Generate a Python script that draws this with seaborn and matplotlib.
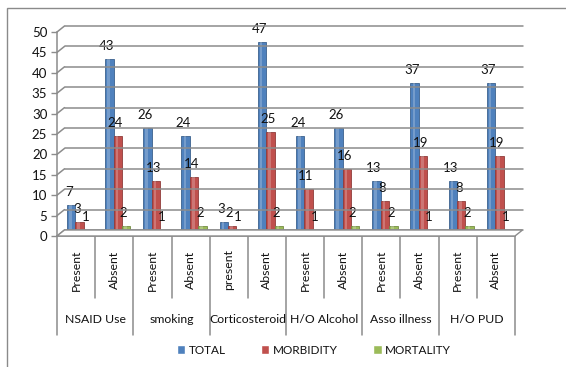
import matplotlib
matplotlib.use("Agg")
import matplotlib.pyplot as plt
import matplotlib.transforms as mtransforms
from matplotlib.lines import Line2D
from matplotlib.patches import Rectangle, Polygon
import seaborn as sns
import pandas as pd

# Risk factors and their two levels
groups = ["NSAID Use", "smoking", "Corticosteroid", "H/O Alcohol", "Asso illness", "H/O PUD"]
levels = ["Present", "Absent", "Present", "Absent", "present", "Absent",
          "Present", "Absent", "Present", "Absent", "Present", "Absent"]

# Counts per level
total = [7, 43, 26, 24, 3, 47, 24, 26, 13, 37, 13, 37]
morbidity = [3, 24, 13, 14, 2, 25, 11, 16, 8, 19, 8, 19]
mortality = [1, 2, 1, 2, 1, 2, 1, 2, 2, 1, 2, 1]

series = ["TOTAL", "MORBIDITY", "MORTALITY"]
colors = ["#4F81BD", "#C0504D", "#9BBB59"]
y_ticks = list(range(0, 55, 5))

FONT = "Lato"
GRID = "#8c8c8c"
TXT = "#111111"
W, H, DPI = 566, 367, 100

sns.set_theme(style="white")
plt.rcParams["font.family"] = [FONT, "DejaVu Sans"]

# unique key for each bar slot
keys = [f"{i:02d}" for i in range(len(levels))]
df = pd.DataFrame({
    "slot": keys * 3,
    "series": sum([[s] * len(keys) for s in series], []),
    "value": total + morbidity + mortality,
})

fig = plt.figure(figsize=(W / DPI, H / DPI), dpi=DPI)

# plot area (front plane)
x0, x1, y0, y1 = 57, 515, 236, 32
ax = fig.add_axes([x0 / W, 1 - y0 / H, (x1 - x0) / W, (y0 - y1) / H])
ax.patch.set_alpha(0)

sns.barplot(data=df, x="slot", y="value", hue="series", order=keys,
            hue_order=series, palette=colors, saturation=1, width=0.66,
            errorbar=None, ax=ax, zorder=3)

ax.set_ylim(0, 50)
ax.set_xlim(-0.5, len(keys) - 0.5)
ax.set_yticks(y_ticks)
ax.set_yticklabels([str(t) for t in y_ticks], fontsize=9.5, color=TXT)
ax.set_xticks([])
ax.set_xlabel("")
ax.set_ylabel("")
ax.tick_params(axis="y", length=4, width=1, color=GRID, pad=3, left=True)
for side in ["top", "right"]:
    ax.spines[side].set_visible(False)
for side in ["left", "bottom"]:
    ax.spines[side].set_color(GRID)
    ax.spines[side].set_linewidth(1.1)

# depth offset of the back wall (pixels)
dx, dy = 7.5, 6.0
fig.canvas.draw()
bt = mtransforms.blended_transform_factory(ax.transAxes, ax.transData)
ident = mtransforms.IdentityTransform()

for t in y_ticks:
    lx, ly = bt.transform((0, t))
    rx, ry = bt.transform((1, t))
    # back wall gridline
    fig.add_artist(Line2D([lx + dx, rx + dx], [ly + dy, ry + dy], color=GRID,
                          lw=1.1, transform=ident, zorder=1))
    # side wall diagonal
    fig.add_artist(Line2D([lx, lx + dx], [ly, ly + dy], color=GRID,
                          lw=1.1, transform=ident, zorder=1))

# floor
fl, _ = bt.transform((0, 0))
fr, fy = bt.transform((1, 0))
fig.add_artist(Polygon([[fl, fy], [fr, fy], [fr + dx, fy + dy], [fl + dx, fy + dy]],
                       closed=True, facecolor="white", edgecolor=GRID, lw=1.0,
                       transform=ident, zorder=1.5))

# bars stand in the middle of the depth, with a soft cylinder highlight
shift = mtransforms.ScaledTranslation(3.5 / DPI, 2 / DPI, fig.dpi_scale_trans)
for p in list(ax.patches):
    p.set_transform(ax.transData + shift)
    fc = p.get_facecolor()
    p.set_edgecolor(tuple(c * 0.75 for c in fc[:3]))
    p.set_linewidth(0.6)
    hl = Rectangle((p.get_x() + p.get_width() * 0.25, 0), p.get_width() * 0.3,
                   p.get_height(), facecolor="white", alpha=0.22, lw=0,
                   transform=ax.transData + shift, zorder=3.5)
    ax.add_patch(hl)

# value labels
for cont, vals in zip(ax.containers, [total, morbidity, mortality]):
    for bar, v in zip(cont, vals):
        cx = bar.get_x() + bar.get_width() / 2
        ax.annotate(str(v), xy=(cx, v), xytext=(1, 9), textcoords="offset pixels",
                    ha="center", va="bottom", fontsize=9.5, color=TXT,
                    zorder=5, annotation_clip=False)

# category axis: separators and labels
xb = mtransforms.blended_transform_factory(ax.transData, ax.transAxes)
px = (y0 - y1)
for b in range(len(keys) + 1):
    edge = b - 0.5
    depth = 335 if b % 2 == 0 else 298
    ax.plot([edge, edge], [0, -(depth - y0) / px], color=GRID, lw=1.1,
            transform=xb, clip_on=False)
for i, lab in enumerate(levels):
    ax.text(i, -(270 - y0) / px, lab, rotation=90, ha="center", va="center",
            fontsize=8.8, color=TXT, transform=xb)
for g, name in enumerate(groups):
    ax.text(2 * g + 0.5, -(320 - y0) / px, name, ha="center", va="center",
            fontsize=8.8, color=TXT, transform=xb)

# legend
sns.move_legend(ax, "center", bbox_to_anchor=(314 / W, 1 - 350 / H),
                bbox_transform=fig.transFigure, ncol=3, frameon=False, title=None,
                fontsize=8.5, handlelength=0.7, handleheight=0.7,
                handletextpad=0.3, columnspacing=3.0)
for t in ax.get_legend().get_texts():
    t.set_color(TXT)

# outer frame
fig.add_artist(Rectangle((7 / W, -0.1), 1.2, 1.1 - 8 / H, transform=fig.transFigure,
                         fill=False, edgecolor="#8a8a8a", lw=1.0))

fig.savefig("out.png", dpi=DPI)
